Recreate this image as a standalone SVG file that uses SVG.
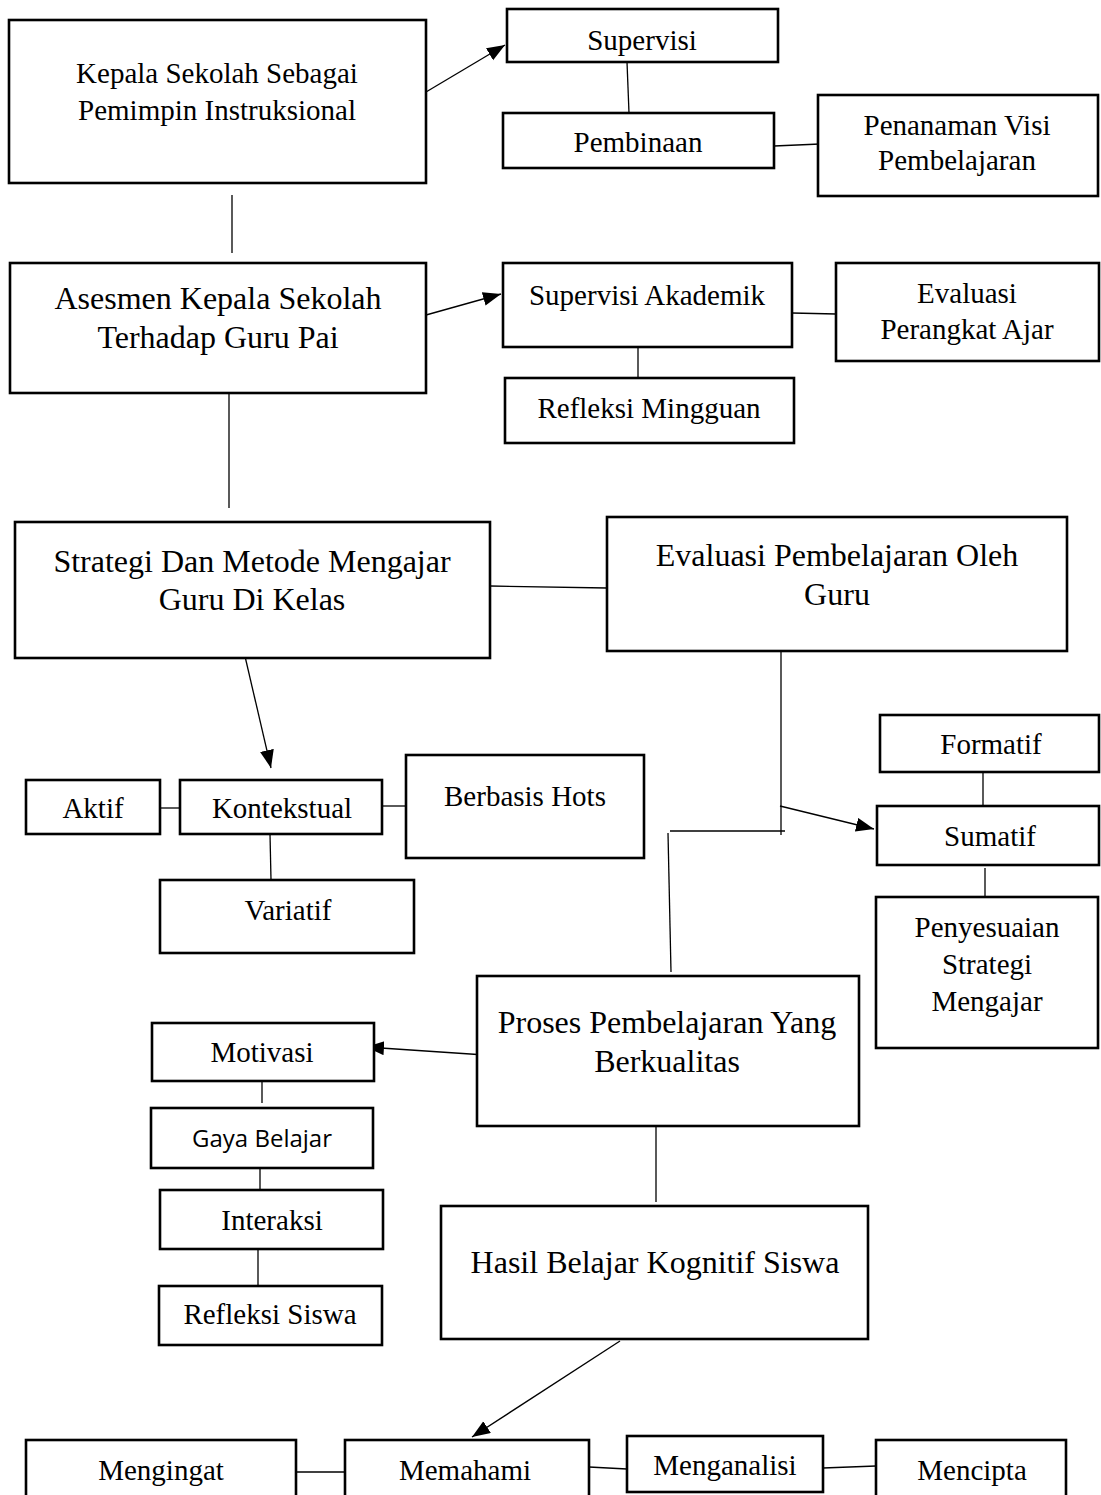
<svg xmlns="http://www.w3.org/2000/svg" width="1101" height="1495" viewBox="0 0 1101 1495">
<style>
.b{fill:#fff;stroke:#000;stroke-width:2.6}
.t{font-family:"Liberation Serif","Times New Roman",serif;font-size:29px;fill:#000;text-anchor:middle}
.tb{font-size:32px}
.s{font-family:"Open Sans","Liberation Sans",sans-serif;font-size:24px;fill:#000;text-anchor:middle}
.c line{stroke:#000;stroke-width:1.3;fill:none}
</style>
<defs>
<marker id="ah" markerUnits="userSpaceOnUse" markerWidth="20" markerHeight="16" refX="18" refY="7" orient="auto">
<path d="M0,0 L18,7 L0,14 z" fill="#000"/>
</marker>
</defs>
<rect width="1101" height="1495" fill="#fff"/>
<g class="c" id="connectors">
<line x1="232" y1="195" x2="232" y2="253"/>
<line x1="426" y1="92" x2="505" y2="45" marker-end="url(#ah)"/>
<line x1="627" y1="62" x2="629" y2="113"/>
<line x1="774" y1="146" x2="820" y2="144"/>
<line x1="426" y1="315" x2="501" y2="294" marker-end="url(#ah)"/>
<line x1="792" y1="313" x2="836" y2="314"/>
<line x1="638" y1="347" x2="638" y2="378"/>
<line x1="229" y1="393" x2="229" y2="508"/>
<line x1="490" y1="586" x2="607" y2="588"/>
<line x1="244" y1="652" x2="271" y2="768" marker-end="url(#ah)"/>
<line x1="781" y1="646" x2="781" y2="835"/>
<line x1="670" y1="831" x2="785" y2="831"/>
<line x1="668" y1="833" x2="671" y2="972"/>
<line x1="780" y1="806" x2="874" y2="829" marker-end="url(#ah)"/>
<line x1="983" y1="772" x2="983" y2="806"/>
<line x1="985" y1="868" x2="985" y2="897"/>
<line x1="160" y1="808" x2="180" y2="808"/>
<line x1="382" y1="806" x2="406" y2="806"/>
<line x1="270" y1="834" x2="271" y2="880"/>
<line x1="485" y1="1055" x2="366" y2="1047" marker-end="url(#ah)"/>
<line x1="656" y1="1126" x2="656" y2="1202"/>
<line x1="262" y1="1081" x2="262" y2="1103"/>
<line x1="260" y1="1168" x2="260" y2="1190"/>
<line x1="258" y1="1244" x2="258" y2="1288"/>
<line x1="620" y1="1341" x2="472" y2="1437" marker-end="url(#ah)"/>
<line x1="296" y1="1472" x2="345" y2="1472"/>
<line x1="589" y1="1467" x2="627" y2="1469"/>
<line x1="823" y1="1468" x2="876" y2="1466"/>
</g>
<g id="n-kepala"><rect class="b" x="9" y="20" width="417" height="163"/><text class="t" x="217" y="83">Kepala Sekolah Sebagai</text><text class="t" x="217" y="120">Pemimpin Instruksional</text></g>
<g id="n-supervisi"><rect class="b" x="507" y="9" width="271" height="53"/><text class="t" x="642" y="50">Supervisi</text></g>
<g id="n-pembinaan"><rect class="b" x="503" y="113" width="271" height="55"/><text class="t" x="638" y="152">Pembinaan</text></g>
<g id="n-penanaman"><rect class="b" x="818" y="95" width="280" height="101"/><text class="t" x="957" y="135">Penanaman Visi</text><text class="t" x="957" y="170">Pembelajaran</text></g>
<g id="n-asesmen"><rect class="b" x="10" y="263" width="416" height="130"/><text class="t tb" x="218" y="309">Asesmen Kepala Sekolah</text><text class="t tb" x="218" y="348">Terhadap Guru Pai</text></g>
<g id="n-supakademik"><rect class="b" x="503" y="263" width="289" height="84"/><text class="t" x="647" y="305">Supervisi Akademik</text></g>
<g id="n-evalperangkat"><rect class="b" x="836" y="263" width="263" height="98"/><text class="t" x="967" y="303">Evaluasi</text><text class="t" x="967" y="339">Perangkat Ajar</text></g>
<g id="n-refmingguan"><rect class="b" x="505" y="378" width="289" height="65"/><text class="t" x="649" y="418">Refleksi Mingguan</text></g>
<g id="n-strategi"><rect class="b" x="15" y="522" width="475" height="136"/><text class="t tb" x="252" y="572">Strategi Dan Metode Mengajar</text><text class="t tb" x="252" y="610">Guru Di Kelas</text></g>
<g id="n-evalpemb"><rect class="b" x="607" y="517" width="460" height="134"/><text class="t tb" x="837" y="566">Evaluasi Pembelajaran Oleh</text><text class="t tb" x="837" y="605">Guru</text></g>
<g id="n-formatif"><rect class="b" x="880" y="715" width="219" height="57"/><text class="t" x="991" y="754">Formatif</text></g>
<g id="n-sumatif"><rect class="b" x="877" y="806" width="222" height="59"/><text class="t" x="990" y="846">Sumatif</text></g>
<g id="n-penyesuaian"><rect class="b" x="876" y="897" width="222" height="151"/><text class="t" x="987" y="937">Penyesuaian</text><text class="t" x="987" y="974">Strategi</text><text class="t" x="987" y="1011">Mengajar</text></g>
<g id="n-aktif"><rect class="b" x="26" y="780" width="134" height="54"/><text class="t" x="93" y="818">Aktif</text></g>
<g id="n-kontekstual"><rect class="b" x="180" y="780" width="202" height="54"/><text class="t" x="282" y="818">Kontekstual</text></g>
<g id="n-hots"><rect class="b" x="406" y="755" width="238" height="103"/><text class="t" x="525" y="806">Berbasis Hots</text></g>
<g id="n-variatif"><rect class="b" x="160" y="880" width="254" height="73"/><text class="t" x="288" y="920">Variatif</text></g>
<g id="n-proses"><rect class="b" x="477" y="976" width="382" height="150"/><text class="t tb" x="667" y="1033">Proses Pembelajaran Yang</text><text class="t tb" x="667" y="1072">Berkualitas</text></g>
<g id="n-motivasi"><rect class="b" x="152" y="1023" width="222" height="58"/><text class="t" x="262" y="1062">Motivasi</text></g>
<g id="n-gaya"><rect class="b" x="151" y="1108" width="222" height="60"/><text class="s" x="262" y="1147">Gaya Belajar</text></g>
<g id="n-interaksi"><rect class="b" x="160" y="1190" width="223" height="59"/><text class="t" x="272" y="1230">Interaksi</text></g>
<g id="n-refsiswa"><rect class="b" x="159" y="1286" width="223" height="59"/><text class="t" x="270" y="1324">Refleksi Siswa</text></g>
<g id="n-hasil"><rect class="b" x="441" y="1206" width="427" height="133"/><text class="t tb" x="655" y="1273">Hasil Belajar Kognitif Siswa</text></g>
<g id="n-mengingat"><rect class="b" x="26" y="1440" width="270" height="70"/><text class="t" x="161" y="1480">Mengingat</text></g>
<g id="n-memahami"><rect class="b" x="345" y="1440" width="244" height="70"/><text class="t" x="465" y="1480">Memahami</text></g>
<g id="n-menganalisi"><rect class="b" x="627" y="1436" width="196" height="56"/><text class="t" x="725" y="1475">Menganalisi</text></g>
<g id="n-mencipta"><rect class="b" x="876" y="1440" width="190" height="70"/><text class="t" x="972" y="1480">Mencipta</text></g>
</svg>
